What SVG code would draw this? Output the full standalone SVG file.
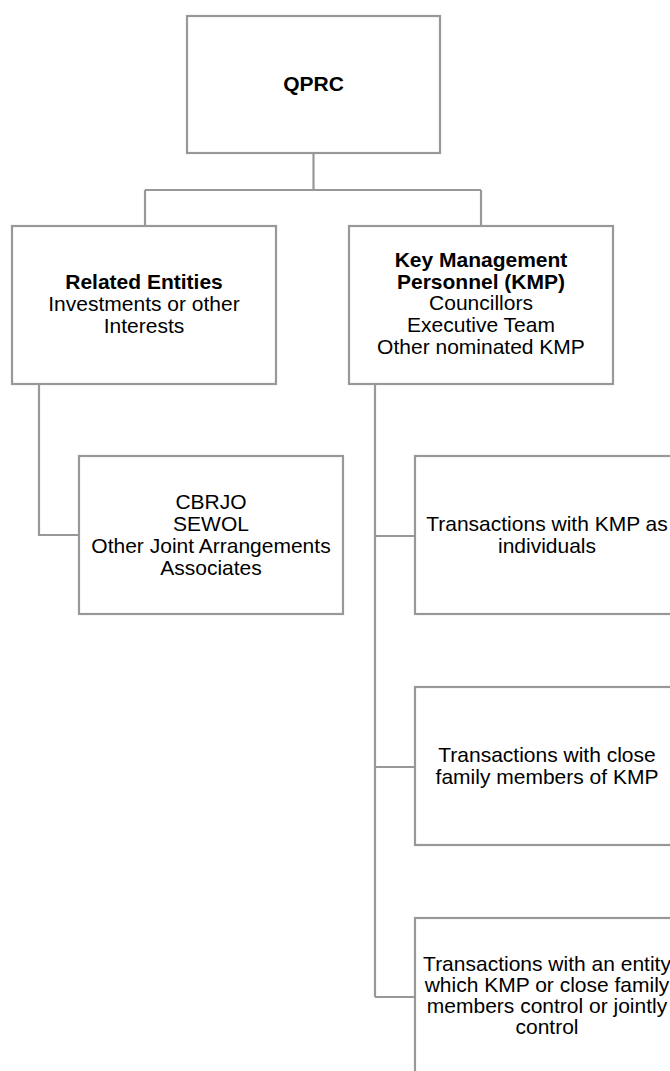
<svg xmlns="http://www.w3.org/2000/svg" width="670" height="1071" viewBox="0 0 670 1071">
<style>
.box{fill:#ffffff;stroke:#989898;stroke-width:2.2}
.con{fill:none;stroke:#989898;stroke-width:2.2}
text{font-family:"Liberation Sans",Arial,sans-serif;font-size:21px;fill:#000;text-anchor:middle}
.b{font-weight:bold}
</style>
<rect width="670" height="1071" fill="#ffffff"/>
<g id="connectors">
<path class="con" d="M313.5,153 V190 M145,190 H481 M145,190 V226 M481,190 V226"/>
<path class="con" d="M39,384 V535 H79"/>
<path class="con" d="M375,384 V997 M375,536 H415 M375,767 H415 M375,997 H415"/>
</g>
<g id="qprc">
<rect class="box" x="187" y="16" width="253" height="137"/>
<text class="b" x="313.5" y="91">QPRC</text>
</g>
<g id="related-entities">
<rect class="box" x="12" y="226" width="264" height="158"/>
<text x="144" y="289"><tspan class="b">Related Entities</tspan><tspan x="144" dy="22">Investments or other</tspan><tspan x="144" dy="22">Interests</tspan></text>
</g>
<g id="kmp">
<rect class="box" x="349" y="226" width="264" height="158"/>
<text x="481" y="267"><tspan class="b">Key Management</tspan><tspan class="b" x="481" dy="21.7">Personnel (KMP)</tspan><tspan x="481" dy="21.7">Councillors</tspan><tspan x="481" dy="21.7">Executive Team</tspan><tspan x="481" dy="21.7">Other nominated KMP</tspan></text>
</g>
<g id="joint-arrangements">
<rect class="box" x="79" y="456" width="264" height="158"/>
<text x="211" y="509"><tspan>CBRJO</tspan><tspan x="211" dy="22">SEWOL</tspan><tspan x="211" dy="22">Other Joint Arrangements</tspan><tspan x="211" dy="22">Associates</tspan></text>
</g>
<g id="kmp-individuals">
<rect class="box" x="415" y="456" width="264" height="158"/>
<text x="547" y="531"><tspan>Transactions with KMP as</tspan><tspan x="547" dy="22">individuals</tspan></text>
</g>
<g id="close-family">
<rect class="box" x="415" y="687" width="264" height="158"/>
<text x="547" y="762"><tspan>Transactions with close</tspan><tspan x="547" dy="22">family members of KMP</tspan></text>
</g>
<g id="entity-control">
<rect class="box" x="415" y="918" width="264" height="158"/>
<text x="547" y="971"><tspan>Transactions with an entity</tspan><tspan x="547" dy="21">which KMP or close family</tspan><tspan x="547" dy="21">members control or jointly</tspan><tspan x="547" dy="21">control</tspan></text>
</g>
</svg>
